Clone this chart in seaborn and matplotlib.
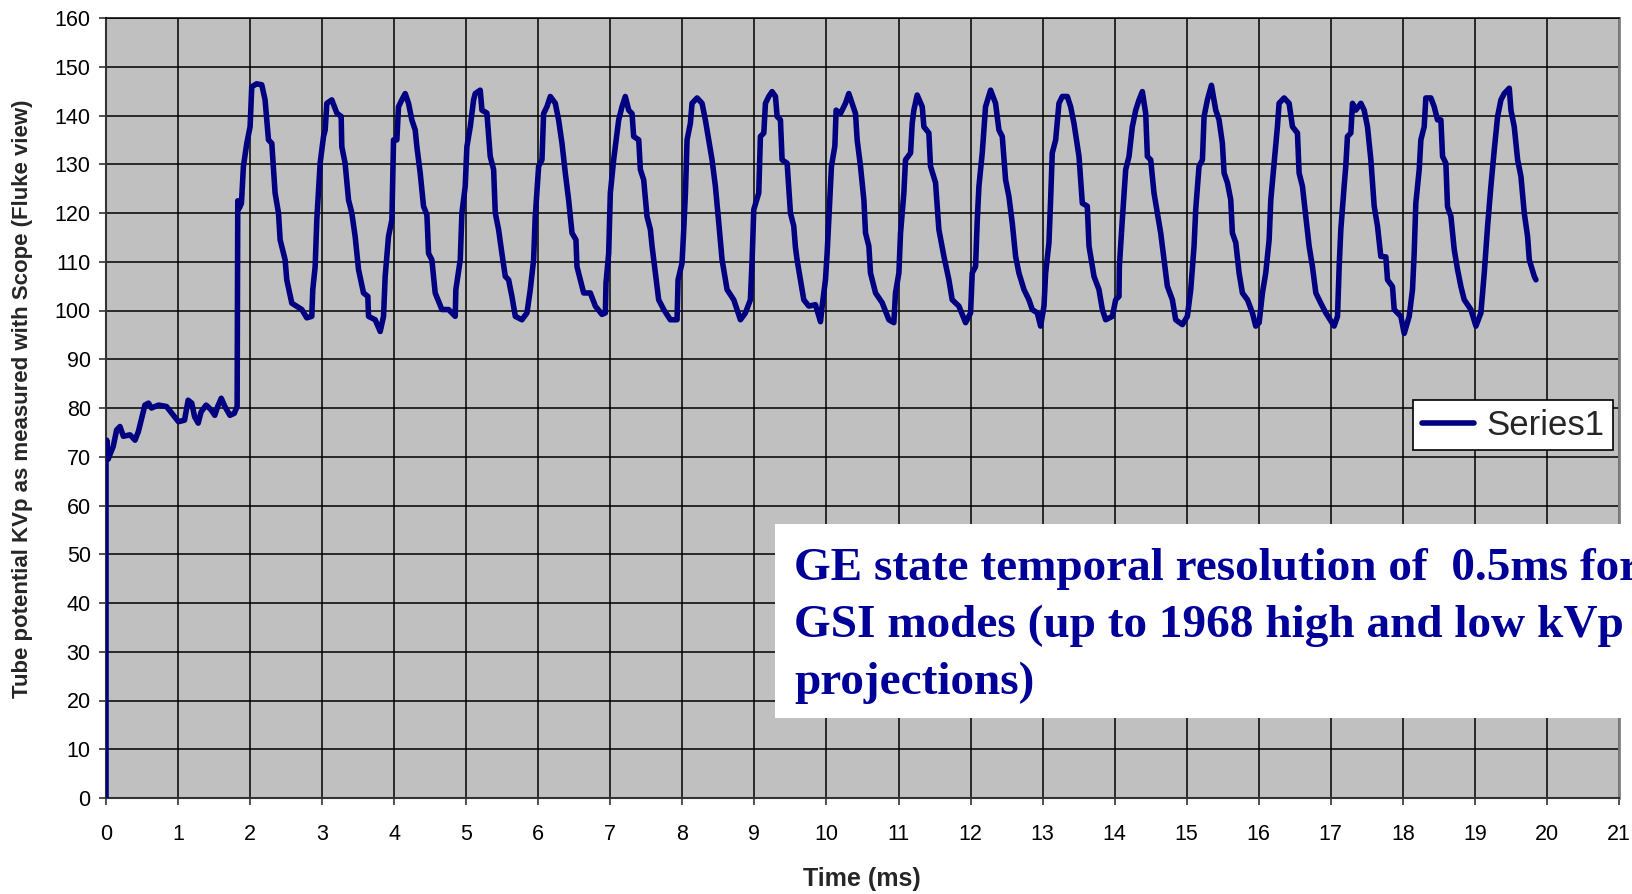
import matplotlib
matplotlib.use("Agg")
import matplotlib.pyplot as plt
import seaborn as sns
import pandas as pd
from matplotlib.patches import Rectangle

# ---------------- data ----------------
time_ms = [
    0.0, 0.0, 0.01, 0.03, 0.056, 0.10, 0.148, 0.194, 0.241, 0.333, 0.403, 0.45, 0.50, 0.54, 0.59, 0.63,
    0.73, 0.84, 0.935, 1.005, 1.09, 1.14, 1.19, 1.23, 1.28, 1.32, 1.39, 1.46, 1.51, 1.55, 1.60, 1.65,
    1.72, 1.78, 1.82,
    1.829, 1.85, 1.88, 1.907, 1.954, 2.0, 2.023, 2.09, 2.162, 2.208, 2.255, 2.301, 2.347, 2.394, 2.417,
    2.486, 2.509, 2.579, 2.718, 2.787, 2.856, 2.87, 2.903, 2.926, 2.972, 3.019, 3.042, 3.065, 3.134,
    3.204, 3.264, 3.273, 3.319, 3.366, 3.412, 3.458, 3.505, 3.574, 3.634, 3.644, 3.736, 3.806, 3.852,
    3.875, 3.921, 3.968, 3.991, 4.037, 4.06, 4.106, 4.153, 4.199, 4.245, 4.292, 4.315, 4.361, 4.407,
    4.454, 4.477, 4.523, 4.569, 4.662, 4.755, 4.847, 4.856, 4.917, 4.94, 4.986, 5.009, 5.056, 5.102,
    5.125, 5.194, 5.218, 5.287, 5.333, 5.38, 5.403, 5.449, 5.495, 5.542, 5.588,
    5.634, 5.681, 5.773, 5.843, 5.889, 5.935, 5.958, 6.005, 6.051, 6.074, 6.12, 6.167, 6.236, 6.282,
    6.329, 6.375, 6.421, 6.468, 6.523, 6.537, 6.63, 6.722, 6.792, 6.884, 6.931, 6.94, 6.977, 7.0,
    7.046, 7.116, 7.162, 7.208, 7.255, 7.301, 7.324, 7.394, 7.417, 7.463, 7.509, 7.556, 7.579, 7.625,
    7.671, 7.741, 7.833, 7.926, 7.94, 7.995, 8.019, 8.042, 8.065, 8.111, 8.134, 8.204, 8.273, 8.319,
    8.366, 8.412, 8.458, 8.505, 8.551, 8.62, 8.713, 8.806, 8.875, 8.944, 8.968, 8.991, 9.06, 9.083,
    9.13, 9.153, 9.199, 9.245, 9.292, 9.315, 9.361, 9.384, 9.454, 9.5, 9.546, 9.569, 9.592,
    9.639, 9.685, 9.755, 9.847, 9.917, 9.94, 9.986, 10.009, 10.032, 10.069, 10.116, 10.134, 10.194,
    10.264, 10.31, 10.356, 10.403, 10.426, 10.472, 10.519, 10.542, 10.588, 10.611, 10.681, 10.773,
    10.866, 10.935, 10.958, 11.005, 11.028, 11.074, 11.097, 11.167, 11.19, 11.213, 11.259, 11.329,
    11.352, 11.421, 11.444, 11.514, 11.56, 11.63, 11.699, 11.745, 11.838, 11.931, 12.0, 12.023,
    12.069, 12.093, 12.116, 12.162, 12.208, 12.278, 12.347, 12.394, 12.44, 12.486, 12.532, 12.579,
    12.625, 12.671, 12.741, 12.81, 12.856, 12.926, 12.972, 13.019, 13.042, 13.088, 13.111, 13.134,
    13.181, 13.227, 13.273, 13.343, 13.389, 13.435, 13.505, 13.551, 13.62, 13.644,
    13.667, 13.713, 13.782, 13.829, 13.875, 13.968, 14.014, 14.06, 14.065, 14.106, 14.153, 14.199,
    14.245, 14.292, 14.338, 14.384, 14.431, 14.454, 14.5, 14.546, 14.593, 14.639, 14.685, 14.731,
    14.801, 14.847, 14.94, 15.009, 15.056, 15.102, 15.125, 15.171, 15.218, 15.241, 15.287, 15.343,
    15.403, 15.449, 15.495, 15.519, 15.565, 15.611, 15.634, 15.681, 15.727, 15.773, 15.843, 15.912,
    15.958, 16.005, 16.051, 16.097, 16.144, 16.167, 16.213, 16.259, 16.282, 16.352, 16.421, 16.468,
    16.537, 16.56, 16.606, 16.653, 16.699, 16.745, 16.792, 16.861, 16.931, 17.046, 17.093, 17.116,
    17.139, 17.185, 17.208, 17.231, 17.278, 17.301, 17.347, 17.417, 17.463, 17.509, 17.556, 17.602,
    17.648, 17.694,
    17.764, 17.787, 17.856, 17.88, 17.972, 18.019, 18.088, 18.134, 18.157, 18.18, 18.204, 18.227,
    18.25, 18.296, 18.319, 18.389, 18.435, 18.481, 18.528, 18.551, 18.597, 18.62, 18.667, 18.713,
    18.759, 18.806, 18.852, 18.944, 19.014, 19.083, 19.13, 19.176, 19.222, 19.269, 19.315, 19.361,
    19.407, 19.477, 19.5, 19.546, 19.593, 19.639, 19.685, 19.731, 19.755, 19.824, 19.847,
]
kvp = [
    0, 69, 73.4, 69.5, 70.5, 72.1, 75.5, 76.2, 74.2, 74.5, 73.4, 75.2, 78.2, 80.6, 81.0, 80.0,
    80.6, 80.3, 78.5, 77.2, 77.5, 81.6, 81.0, 78.2, 76.9, 79.2, 80.6, 79.6, 78.5, 80.3, 82.0, 80.3,
    78.5, 78.9, 80.3,
    122.5, 121, 122, 129.5, 134.3, 137.7, 145.9, 146.5, 146.3, 143.2, 135, 134.3, 124.1, 120, 114.5,
    110.4, 106.3, 101.5, 100.2, 98.5, 98.8, 104.3, 109, 118.6, 130.2, 135.7, 137, 142.5, 143.2,
    140.5, 139.8, 133.6, 130.2, 122.7, 120, 115.2, 108.4, 103.6, 102.9, 98.8, 98.1, 95.7, 98.8,
    107, 115.2, 118.6, 135, 135, 141.8, 143.2, 144.5, 142.5, 139.1, 137, 133.6, 128.2, 121.4,
    119.6, 111.7, 110.4, 103.6, 100.2, 100.2, 98.8, 104.3, 110.4, 120, 125.5, 133.6, 137.7, 143.2,
    144.5, 145.2, 141.1, 140.5, 131.6, 128.9, 120, 116.6, 111.7, 107, 106.3,
    102.9, 98.8, 98.1, 99.5, 104.3, 110.4, 119.3, 129.6, 130.9, 140.4, 141.8, 143.9, 142.5, 139.1,
    134.3, 128.2, 122.7, 115.9, 114.5, 109, 103.6, 103.6, 100.9, 99.2, 99.5, 105.7, 111.7, 124.1,
    130.9, 139.1, 141.8, 143.9, 141.1, 140.4, 135.7, 135, 128.9, 126.8, 119.3, 116.6, 113.2, 107.7,
    102.2, 100.2, 98.1, 98.1, 106.3, 109.7, 116.6, 124.1, 135, 138.4, 142.5, 143.6, 142.5, 139.1,
    135, 130.9, 125.5, 118, 110.4, 104.3, 102.2, 98.1, 99.5, 102.2, 110.4, 120.7, 124.1, 135.7,
    136.4, 142.5, 143.9, 144.9, 143.9, 139.8, 139.1, 130.9, 130.2, 120, 117.3, 113, 110.4,
    106.3, 102.2, 100.9, 101.2, 97.7, 100.9, 106.3, 111.7, 118.6, 129.6, 133.7, 141.1, 140.4,
    142.5, 144.5, 142.5, 140.4, 135, 129.6, 122.7, 115.9, 113.2, 107.7, 103.6, 101.6,
    98.1, 97.5, 103.6, 107.7, 115.9, 124.1, 130.9, 132.3, 138.4, 141.1, 144.2, 141.8,
    137.7, 136.4, 129.6, 126.2, 116.6, 111.1, 106.3, 102.2, 100.9, 97.5, 99.5, 107.7,
    109, 118.6, 125.5, 132.3, 141.8, 145.2, 142.5, 137, 135.7, 126.8, 123.4, 117.9,
    111.1, 107.7, 104.3, 102.2, 100.2, 99.5, 96.8, 100.9, 107.7, 113.9, 122.7, 132.3,
    135, 142.5, 143.9, 143.9, 141.8, 138.4, 131.6, 122, 121.4, 113.2,
    111.1, 107, 104.3, 100.2, 98.1, 98.8, 102.2, 102.9, 109, 118.6, 128.9, 131.6,
    137.7, 141.1, 143.2, 144.9, 140.4, 131.6, 130.9, 124.1, 120, 115.9, 110.4, 105,
    102.2, 98.1, 97.1, 98.8, 104.3, 113.2, 120.7, 129.6, 130.9, 139.8, 143.2, 146.2,
    141.1, 139.1, 134.3, 128.2, 126.2, 122.7, 115.9, 113.9, 107.7, 103.6, 102.2, 99.5,
    96.8, 97.5, 103.6, 107.7, 114.5, 122.7, 130.2, 137.7, 142.5, 143.6, 142.5, 137.7,
    136.4, 128.2, 125.5, 119.3, 113.2, 109, 103.6, 101.5, 99.5, 96.8, 98.8, 109,
    116.6, 125.5, 129.6, 135.7, 136.4, 142.5, 141.1, 142.5, 141.1, 137.7, 130.9, 121.4,
    117.3, 111.1,
    111, 106.3, 104.9, 100.2, 98.8, 95.3, 98.8, 104.3, 111.7, 122, 125.5, 128.9,
    135, 137.7, 143.6, 143.6, 141.8, 139.1, 139.1, 131.6, 130.2, 121.3, 119.3, 112.5,
    108.4, 104.9, 102.2, 100.2, 96.8, 99.5, 107.7, 117.3, 125.5, 133, 139.8, 143.2,
    144.5, 145.6, 141.1, 137.7, 130.9, 127.5, 120, 115.2, 110.4, 107, 106.3,
]
series_name = "Series1"
x_ticks = list(range(0, 22))
y_ticks = list(range(0, 170, 10))
x_label = "Time (ms)"
y_label = "Tube potential KVp as measured with Scope (Fluke view)"
note_lines = [
    "GE state temporal resolution of  0.5ms for",
    "GSI modes (up to 1968 high and low kVp",
    "projections)",
]

# ---------------- style ----------------
sns.set_style("white")
plt.rcParams["font.family"] = ["Liberation Sans", "DejaVu Sans"]

W, H = 1632, 894
fig = plt.figure(figsize=(W / 100, H / 100), dpi=100)
ax = fig.add_axes([106 / W, 1 - 798 / H, (1619 - 106) / W, (798 - 18) / H])
ax.set_facecolor("#C0C0C0")

df = pd.DataFrame({"t": time_ms, "v": kvp, "s": series_name})
sns.lineplot(data=df, x="t", y="v", hue="s", palette=["#000080"], sort=False,
             estimator=None, linewidth=4.0, ax=ax, zorder=3)

ax.set_xlim(0, 21)
ax.set_ylim(0, 160)
ax.set_xticks(x_ticks)
ax.set_yticks(y_ticks)
ax.grid(True, color="black", linewidth=1.1, zorder=1)
ax.set_axisbelow(True)
ax.tick_params(axis="both", labelsize=15.5, length=5, width=1.2, color="#333333",
               direction="out", colors="black")
ax.tick_params(axis="x", pad=14)
ax.tick_params(axis="y", pad=6)
ax.xaxis.set_ticks_position("bottom")
ax.yaxis.set_ticks_position("left")
for side in ["left", "bottom"]:
    ax.spines[side].set_color("#333333")
    ax.spines[side].set_linewidth(1.5)
ax.spines["top"].set_color("black")
ax.spines["top"].set_linewidth(1.1)
ax.spines["right"].set_color("#808080")
ax.spines["right"].set_linewidth(2)
ax.set_xlabel("")
ax.set_ylabel("")

fig.text(862 / W, 1 - 879 / H, x_label, fontsize=18, fontweight="bold",
         ha="center", va="center")
fig.text(23 / W, 1 - 399 / H, y_label, fontsize=16, fontweight="bold",
         rotation=90, ha="center", va="center")

leg = ax.legend(loc="upper right", bbox_to_anchor=(1613 / W, 1 - 400 / H),
                bbox_transform=fig.transFigure, borderaxespad=0, fontsize=25,
                frameon=True, fancybox=False, framealpha=1, edgecolor="black",
                handlelength=1.5, handletextpad=0.35, borderpad=0.25)
leg.get_frame().set_linewidth(1.2)
for line in leg.get_lines():
    line.set_linewidth(4)

# white annotation box with note text
rect = Rectangle((775 / W, 1 - 718 / H), (W - 775) / W + 0.05, (718 - 524) / H,
                 transform=fig.transFigure, facecolor="white", edgecolor="none", zorder=5)
fig.patches.append(rect)
baselines = [580, 637, 694]
for txt, yb in zip(note_lines, baselines):
    fig.text(794 / W, 1 - yb / H, txt, fontsize=34, fontweight="bold",
             family=["Liberation Serif", "DejaVu Serif"], color="#000099",
             ha="left", va="baseline", zorder=6)

fig.savefig("out.png", dpi=100)
